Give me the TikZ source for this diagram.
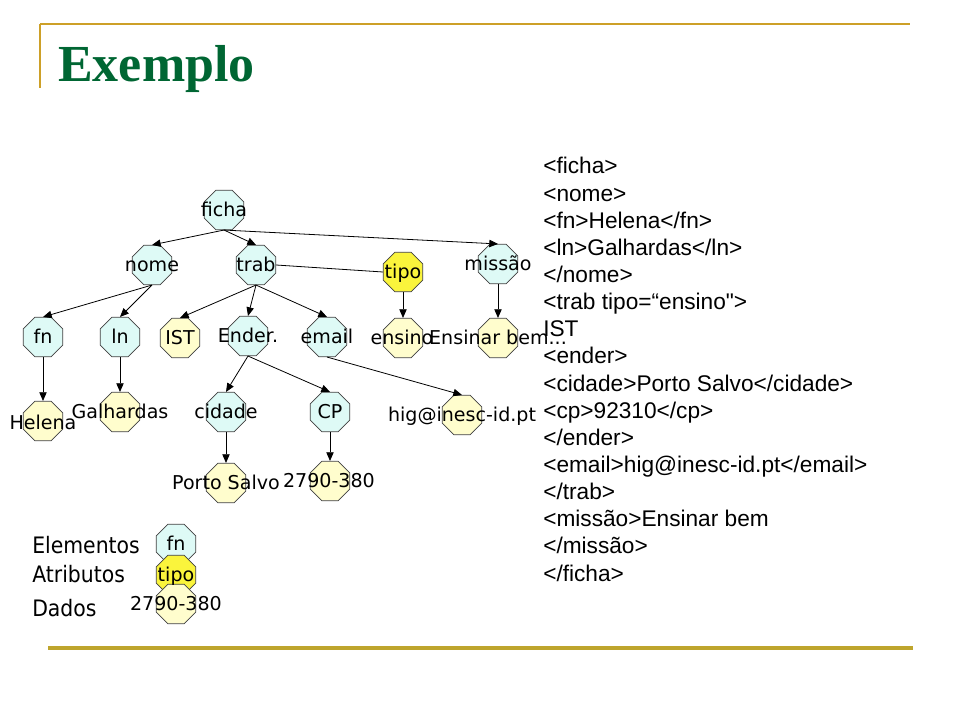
\documentclass[tikz,border=0pt]{standalone}
\usepackage{fontspec}
\setmainfont{DejaVu Sans}
\newfontfamily\legfont[FakeStretch=0.9]{DejaVu Sans}
\newfontfamily\xmlfont{Liberation Sans}
\newfontfamily\ttlfont{Liberation Serif}
\usetikzlibrary{shapes.geometric,arrows.meta}
\definecolor{elem}{RGB}{222,250,246}
\definecolor{dado}{RGB}{255,253,205}
\definecolor{attr}{RGB}{250,244,60}
\definecolor{topgold}{RGB}{205,160,40}
\definecolor{botgold}{RGB}{190,165,45}
\definecolor{ttlgreen}{RGB}{0,102,51}
\tikzset{
  oct/.style={draw=black!75, line width=0.5pt, regular polygon, regular polygon sides=8,
    minimum size=32pt, inner sep=0pt},
  elnode/.style={oct, fill=elem},
  danode/.style={oct, fill=dado},
  atbnode/.style={oct, fill=attr},
  lbl/.style={font=\fontsize{14.3pt}{16pt}\selectfont, inner sep=0pt, text height=10.4pt, text depth=0pt},
  leg/.style={font=\legfont\fontsize{17pt}{20pt}\selectfont, inner sep=0pt, text height=12.4pt, text depth=0pt, anchor=west},
  xml/.style={font=\xmlfont\fontsize{17pt}{20pt}\selectfont, inner sep=0pt, anchor=base west},
  arr/.style={draw=black, line width=0.6pt, -{Triangle[length=6.5pt,width=5.5pt]}},
  plainline/.style={draw=black, line width=0.6pt}
}
\begin{document}
\begin{tikzpicture}[x=0.75pt,y=-0.75pt]
\useasboundingbox (0,0) rectangle (960,720);
\fill[white] (0,0) rectangle (960,720);
% frame lines
\draw[topgold, line width=2.2pt] (40,24) -- (910,24);
\draw[topgold, line width=1.5pt] (40,24) -- (40,88);
\draw[botgold, line width=2.6pt] (48,648) -- (913,648);
% title
\node[anchor=base west, inner sep=0pt, text=ttlgreen, font=\ttlfont\bfseries\fontsize{39pt}{41pt}\selectfont] (title) at (58,82) {Exemplo};

% octagons
\node[elnode] (ficha) at (224,210) {};
\node[elnode] (nome) at (152,265) {};
\node[elnode] (trab) at (256,265) {};
\node[atbnode] (tipo) at (403,272) {};
\node[elnode] (missao) at (498,264) {};
\node[elnode] (fn) at (43,337) {};
\node[elnode] (ln) at (120,337) {};
\node[danode] (ist) at (180,338) {};
\node[elnode] (ender) at (248,336) {};
\node[elnode] (email) at (327,337) {};
\node[danode] (ensino) at (403,338) {};
\node[danode] (ensinar) at (498,338) {};
\node[danode] (helena) at (43,421) {};
\node[danode] (galh) at (120,412) {};
\node[elnode] (cidade) at (226,412) {};
\node[elnode] (cp) at (330,412) {};
\node[danode] (hig) at (462,415) {};
\node[danode] (porto) at (226,483) {};
\node[danode] (cpval) at (330,481) {};
% legend octagons
\node[elnode] (lfn) at (176,544) {};
\node[atbnode] (ltipo) at (176,575) {};
\node[danode] (ldado) at (176,604) {};

% connectors
\draw[arr] (ficha.south) -- (nome.north);
\draw[arr] (ficha.south) -- (trab.north);
\draw[arr] (ficha.south) -- (missao.north);
\draw[plainline] (trab.east) -- (tipo.west);
\draw[arr] (nome.south) -- (fn.north);
\draw[arr] (nome.south) -- (ln.north);
\draw[arr] (trab.south) -- (ist.north);
\draw[arr] (trab.south) -- (ender.north);
\draw[arr] (trab.south) -- (email.north);
\draw[arr] (tipo.south) -- (ensino.north);
\draw[arr] (missao.south) -- (ensinar.north);
\draw[arr] (fn.south) -- (helena.north);
\draw[arr] (ln.south) -- (galh.north);
\draw[arr] (ender.south) -- (cidade.north);
\draw[arr] (ender.south) -- (cp.north);
\draw[arr] (email.south) -- (hig.north);
\draw[arr] (cidade.south) -- (porto.north);
\draw[arr] (cp.south) -- (cpval.north);

% labels
\node[lbl] (tficha) at (ficha) {ficha};
\node[lbl] (tnome) at (nome) {nome};
\node[lbl] (ttrab) at (trab) {trab};
\node[lbl] (ttipo) at (tipo) {tipo};
\node[lbl] (tmissao) at (missao) {missão};
\node[lbl] (tfn) at (fn) {fn};
\node[lbl] (tln) at (ln) {ln};
\node[lbl] (tist) at (ist) {IST};
\node[lbl] (tender) at (ender) {Ender.};
\node[lbl] (temail) at (email) {email};
\node[lbl] (tensino) at (402,338) {ensino};
\node[lbl] (tensinar) at (ensinar) {Ensinar bem...};
\node[lbl] (thelena) at (43,423) {Helena};
\node[lbl] (tgalh) at (galh) {Galhardas};
\node[lbl] (tcidade) at (cidade) {cidade};
\node[lbl] (tcp) at (cp) {CP};
\node[lbl] (thig) at (hig) {hig@inesc-id.pt};
\node[lbl] (tporto) at (porto) {Porto Salvo};
\node[lbl] (tcpval) at (329,481) {2790-380};
\node[lbl] (tlfn) at (lfn) {fn};
\node[lbl] (tltipo) at (ltipo) {tipo};
\node[lbl] (tldado) at (ldado) {2790-380};

% legend texts
\node[leg] (lel) at (32,545) {Elementos};
\node[leg] (lat) at (32,574) {Atributos};
\node[leg] (lda) at (32,608) {Dados};

% XML text
\node[xml] (x1) at (543,174) {<ficha>};
\node[xml] (x2) at (543,201.1) {<nome>};
\node[xml] (x3) at (543,228.3) {<fn>Helena</fn>};
\node[xml] (x4) at (543,255.4) {<ln>Galhardas</ln>};
\node[xml] (x5) at (543,282.5) {</nome>};
\node[xml] (x6) at (543,309.7) {<trab tipo=“ensino">};
\node[xml] (x7) at (543,336.8) {IST};
\node[xml] (x8) at (543,363.9) {<ender>};
\node[xml] (x9) at (543,391.0) {<cidade>Porto Salvo</cidade>};
\node[xml] (x10) at (543,418.2) {<cp>92310</cp>};
\node[xml] (x11) at (543,445.3) {</ender>};
\node[xml] (x12) at (543,472.4) {<email>hig@inesc-id.pt</email>};
\node[xml] (x13) at (543,499.6) {</trab>};
\node[xml] (x14) at (543,526.7) {<missão>Ensinar bem};
\node[xml] (x15) at (543,553.8) {</missão>};
\node[xml] (x16) at (543,581) {</ficha>};
\end{tikzpicture}
\end{document}
